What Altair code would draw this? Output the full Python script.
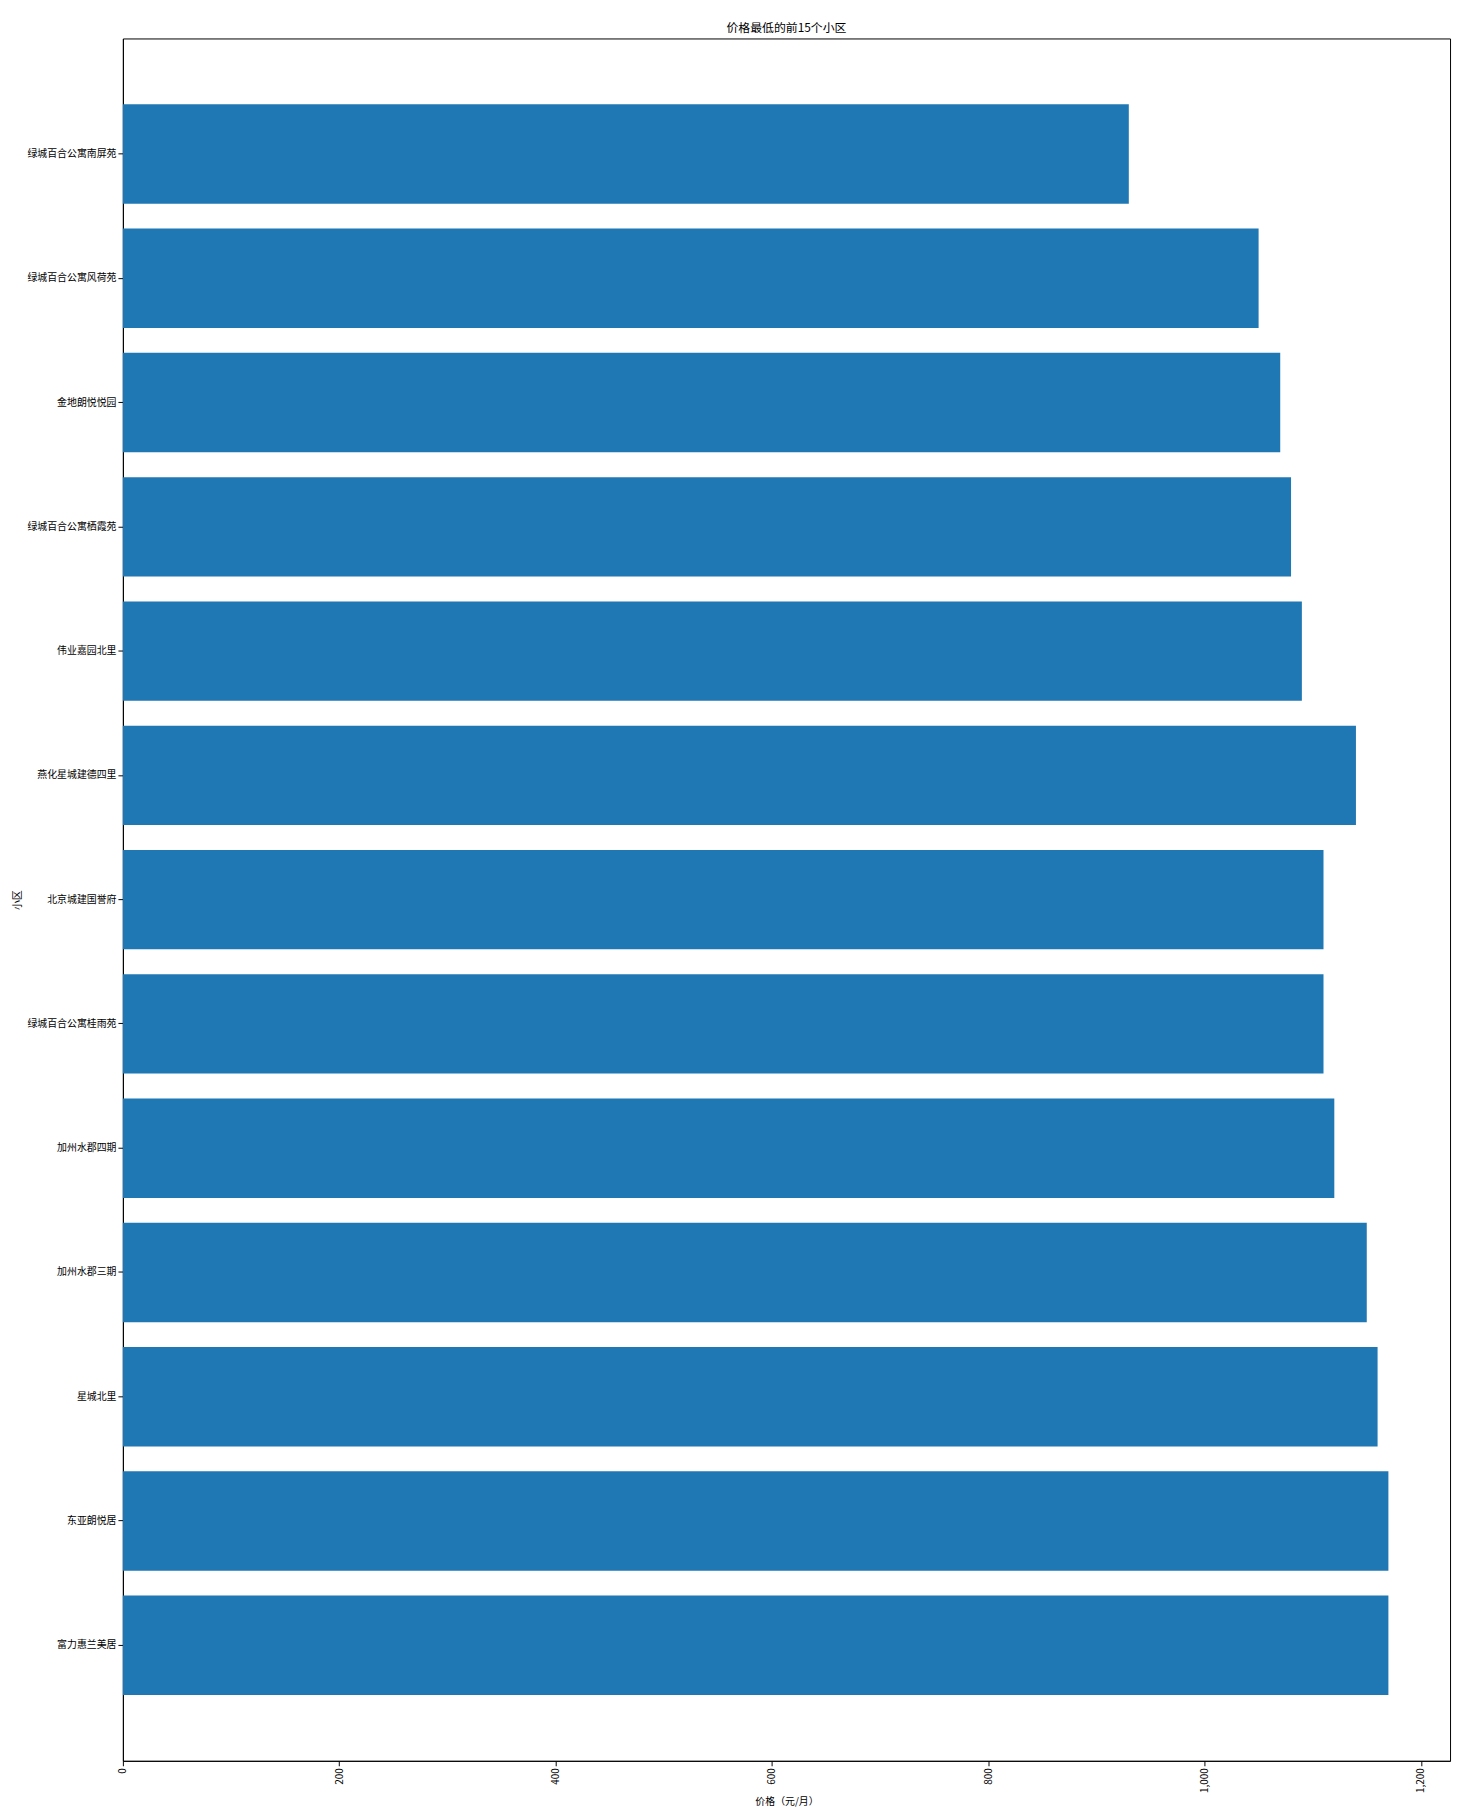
import altair as alt
import pandas as pd

names = ["绿城百合公寓南屏苑", "绿城百合公寓风荷苑", "金地朗悦悦园", "绿城百合公寓栖霞苑",
         "伟业嘉园北里", "燕化星城建德四里", "北京城建国誉府", "绿城百合公寓桂雨苑",
         "加州水郡四期", "加州水郡三期", "星城北里", "东亚朗悦居", "富力惠兰美居"]
prices = [930, 1050, 1070, 1080, 1090, 1140, 1110, 1110, 1120, 1150, 1160, 1170, 1170]

df = pd.DataFrame({"小区": names, "价格": prices})
font = "Noto Sans CJK SC"

chart = alt.Chart(df).mark_bar(color="#1f77b4").encode(
    x=alt.X("价格:Q", title="价格（元/月）", scale=alt.Scale(domain=[0, 1227], nice=False),
            axis=alt.Axis(values=[0, 200, 400, 600, 800, 1000, 1200], labelAngle=270,
                          grid=False, labelAlign="right", labelBaseline="middle")),
    y=alt.Y("小区:N", sort=None, title="小区",
            scale=alt.Scale(paddingInner=0.2, paddingOuter=0.53),
            axis=alt.Axis(grid=False)),
).properties(
    width=1340, height=1739,
    title=alt.TitleParams("价格最低的前15个小区", fontSize=12, fontWeight="normal", font=font),
).configure_axis(
    labelFont=font, titleFont=font, labelFontSize=10, titleFontSize=10,
    titleFontWeight="normal", domainColor="black", tickColor="black",
    labelColor="black", titleColor="black",
).configure_view(stroke="black")

chart.save("out.html", embed_options={"renderer": "svg", "actions": False})
